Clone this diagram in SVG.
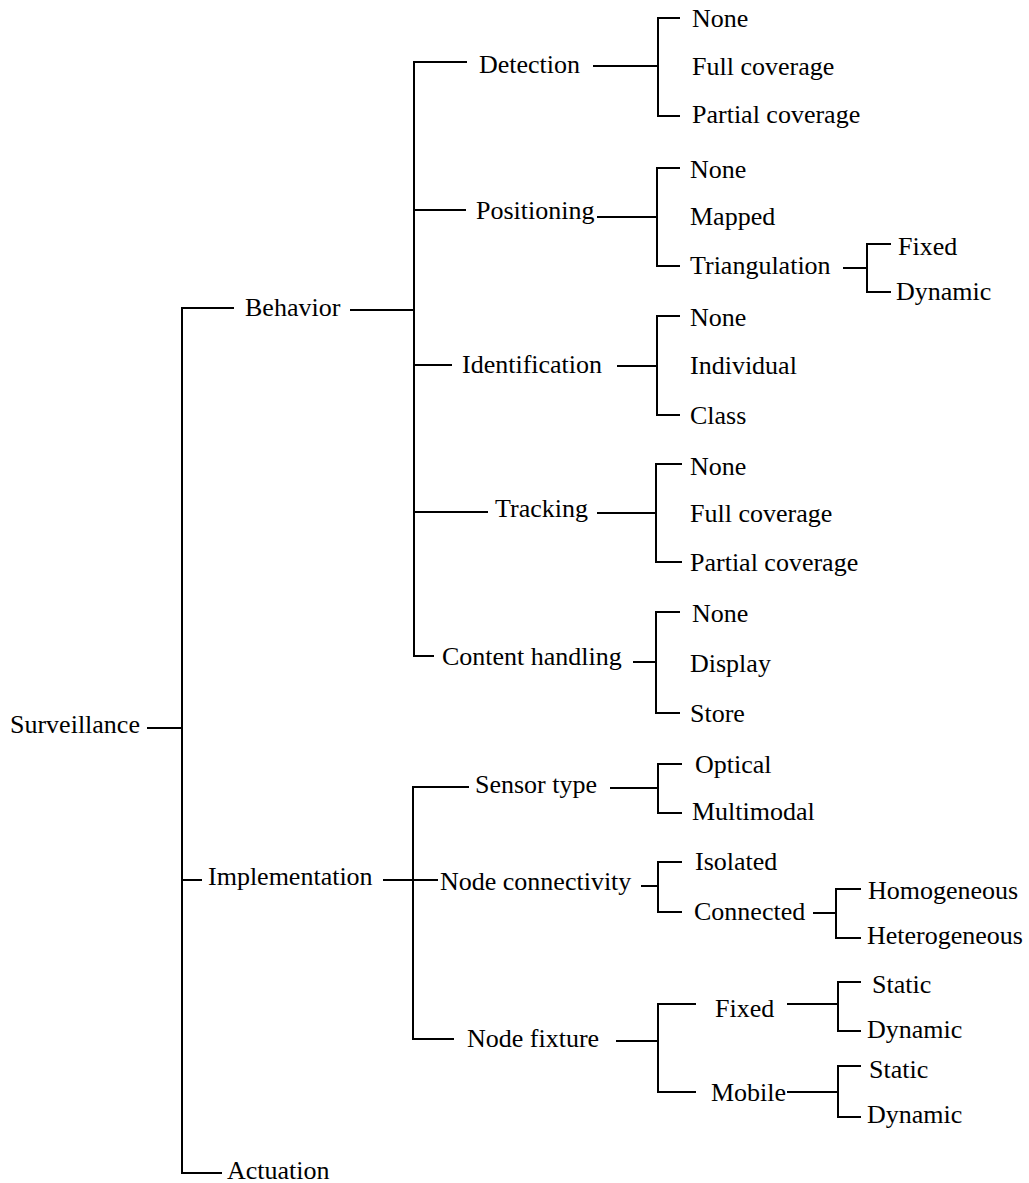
<svg xmlns="http://www.w3.org/2000/svg" width="1029" height="1183" viewBox="0 0 1029 1183">
<style>
.t text{font-family:'Liberation Serif','DejaVu Serif',serif;font-size:26px;fill:#000}
.c path{stroke:#000;stroke-width:2;fill:none;stroke-linecap:butt;stroke-linejoin:miter}
</style>
<rect width="1029" height="1183" fill="#fff"/>
<g class="c" id="connectors">
<path d="M147 728H182"/>
<path d="M234 308H182V1173H222"/>
<path d="M182 880H202"/>
<path d="M350 310H414"/>
<path d="M467 62H414V656H434"/>
<path d="M414 210H466"/>
<path d="M414 365H452"/>
<path d="M414 512H488"/>
<path d="M593 66H658"/>
<path d="M680 18H658V116H680"/>
<path d="M597 217H657"/>
<path d="M680 168H657V266H680"/>
<path d="M843 268H867"/>
<path d="M891 244H867V292H891"/>
<path d="M617 366H657"/>
<path d="M680 316H657V415H680"/>
<path d="M597 513H656"/>
<path d="M682 464H656V562H682"/>
<path d="M633 662H656"/>
<path d="M680 612H656V713H680"/>
<path d="M383 880H413"/>
<path d="M469 787H413V1039H454"/>
<path d="M413 880H438"/>
<path d="M610 788H658"/>
<path d="M682 764H658V813H682"/>
<path d="M641 886H658"/>
<path d="M682 862H658V912H682"/>
<path d="M813 913H836"/>
<path d="M861 889H836V938H861"/>
<path d="M616 1041H658"/>
<path d="M696 1004H658V1092H696"/>
<path d="M787 1004H838"/>
<path d="M861 982H838V1031H861"/>
<path d="M787 1092H838"/>
<path d="M861 1066H838V1117H861"/>
</g>
<g class="t" font-family="Liberation Serif, DejaVu Serif, serif" font-size="26">
<g id="n-surveillance"><text x="10" y="733">Surveillance</text></g>
<g id="n-behavior"><text x="245" y="316">Behavior</text></g>
<g id="n-implementation"><text x="208" y="885">Implementation</text></g>
<g id="n-actuation"><text x="227" y="1179">Actuation</text></g>
<g id="n-detection"><text x="479" y="73">Detection</text></g>
<g id="n-positioning"><text x="476" y="219">Positioning</text></g>
<g id="n-identification"><text x="462" y="373">Identification</text></g>
<g id="n-tracking"><text x="495" y="517">Tracking</text></g>
<g id="n-content"><text x="442" y="665">Content handling</text></g>
<g id="n-sensor"><text x="475" y="793">Sensor type</text></g>
<g id="n-connectivity"><text x="440" y="890">Node connectivity</text></g>
<g id="n-fixture"><text x="467" y="1047">Node fixture</text></g>
<g id="n-det-none"><text x="692" y="27">None</text></g>
<g id="n-det-full"><text x="692" y="75">Full coverage</text></g>
<g id="n-det-partial"><text x="692" y="123">Partial coverage</text></g>
<g id="n-pos-none"><text x="690" y="178">None</text></g>
<g id="n-pos-mapped"><text x="690" y="225">Mapped</text></g>
<g id="n-pos-tri"><text x="690" y="274">Triangulation</text></g>
<g id="n-tri-fixed"><text x="898" y="255">Fixed</text></g>
<g id="n-tri-dynamic"><text x="896" y="300">Dynamic</text></g>
<g id="n-id-none"><text x="690" y="326">None</text></g>
<g id="n-id-individual"><text x="690" y="374">Individual</text></g>
<g id="n-id-class"><text x="690" y="424">Class</text></g>
<g id="n-tr-none"><text x="690" y="475">None</text></g>
<g id="n-tr-full"><text x="690" y="522">Full coverage</text></g>
<g id="n-tr-partial"><text x="690" y="571">Partial coverage</text></g>
<g id="n-ch-none"><text x="692" y="622">None</text></g>
<g id="n-ch-display"><text x="690" y="672">Display</text></g>
<g id="n-ch-store"><text x="690" y="722">Store</text></g>
<g id="n-optical"><text x="695" y="773">Optical</text></g>
<g id="n-multimodal"><text x="692" y="820">Multimodal</text></g>
<g id="n-isolated"><text x="695" y="870">Isolated</text></g>
<g id="n-connected"><text x="694" y="920">Connected</text></g>
<g id="n-homogeneous"><text x="868" y="899">Homogeneous</text></g>
<g id="n-heterogeneous"><text x="867" y="944">Heterogeneous</text></g>
<g id="n-fx-fixed"><text x="715" y="1017">Fixed</text></g>
<g id="n-fx-mobile"><text x="711" y="1101">Mobile</text></g>
<g id="n-fixed-static"><text x="872" y="993">Static</text></g>
<g id="n-fixed-dynamic"><text x="867" y="1038">Dynamic</text></g>
<g id="n-mobile-static"><text x="869" y="1078">Static</text></g>
<g id="n-mobile-dynamic"><text x="867" y="1123">Dynamic</text></g>
</g>
</svg>
